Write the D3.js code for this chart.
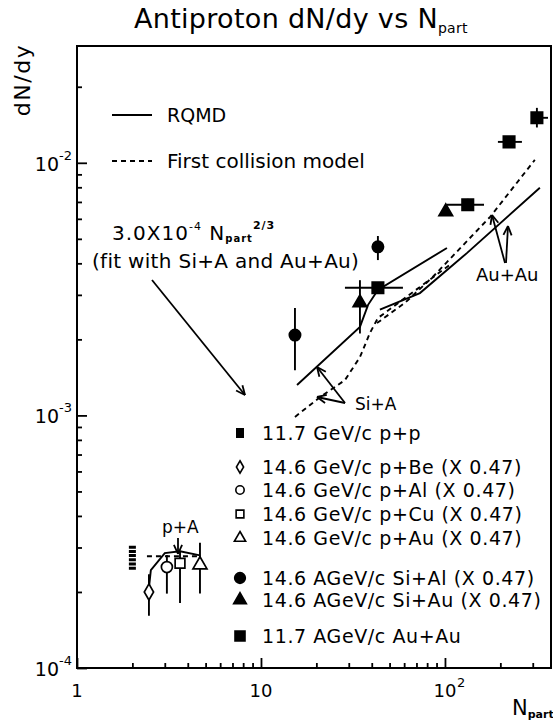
<!DOCTYPE html>
<html><head><meta charset="utf-8">
<script src="https://cdn.jsdelivr.net/npm/d3@7"></script>
<style>
body{margin:0;background:#fff}
svg{display:block}
text{font-family:"DejaVu Sans",sans-serif;fill:#000}
</style>
</head><body>
<svg id="c" width="553" height="723"></svg>
<script>
// ---------------- data ----------------
const xMajorTicks = [1, 10, 100];
const xMinorTicks = [2,3,4,5,6,7,8,9,20,30,40,50,60,70,80,90,200,300];
const yMajorTicks = [1e-4, 1e-3, 1e-2];
const yMinorTicks = [2e-4,3e-4,4e-4,5e-4,6e-4,7e-4,8e-4,9e-4,2e-3,3e-3,4e-3,5e-3,6e-3,7e-3,8e-3,9e-3,2e-2];
const xTickBase = ["1", "10", "10"];
const xTickSup = ["", "", "2"];
const yTickSup = ["-4", "-3", "-2"];

// 11.7 AGeV/c Au+Au
const auauX   = [43.2, 133, 223, 316];
const auauY   = [0.0032, 0.00682, 0.0121, 0.01507];
const auauXlo = [28.6, 102.5, 194, 300];
const auauXhi = [59.1, 163, 262, 363];
const auauYlo = [0.00305, 0.0065, 0.0115, 0.0138];
const auauYhi = [0.00335, 0.0072, 0.0127, 0.0165];
// 14.6 AGeV/c Si+Au
const siauX   = [34.5, 101];
const siauY   = [0.00279, 0.0064];
const siauYlo = [0.00211, 0.0062];
const siauYhi = [0.00343, 0.0066];
// 14.6 AGeV/c Si+Al
const sialX   = [15.3, 43.2];
const sialY   = [0.00208, 0.00465];
const sialYlo = [0.00151, 0.00412];
const sialYhi = [0.00266, 0.00513];
// p+A (x 0.47)
const pbeX = [2.46], pbeY = [0.0002],   pbeYlo = [0.000161], pbeYhi = [0.000235];
const palX = [3.08], palY = [0.000251], palYlo = [0.000197], palYhi = [0.00028];
const pcuX = [3.63], pcuY = [0.00026],  pcuYlo = [0.000181], pcuYhi = [0.00029];
const pauX = [4.66], pauY = [0.000256], pauYlo = [0.000197], pauYhi = [0.000313];
// p+p
const ppX = [2], ppY = [0.000272], ppYlo = [0.000245], ppYhi = [0.000305];

// model curves
const rqmdSiAX  = [15.7, 34.5, 38.2, 43.2, 102.5];
const rqmdSiAY  = [0.00132, 0.00224, 0.00274, 0.00314, 0.0046];
const rqmdAuAuX = [44.3, 73.1, 132, 328];
const rqmdAuAuY = [0.00262, 0.00305, 0.0044, 0.00796];
const rqmdPAX   = [2.46, 2.52, 3.0, 3.63, 4.66];
const rqmdPAY   = [0.000207, 0.000244, 0.000285, 0.00029, 0.000279];
const fcSiAX    = [15.3, 20.9, 28.6, 34.5, 39.1, 43.2, 51.5, 106];
const fcSiAY    = [0.000986, 0.00118, 0.00138, 0.0017, 0.00212, 0.00243, 0.00267, 0.00394];
const fcAuAuX   = [42.7, 60.6, 86.1, 176, 308];
const fcAuAuY   = [0.00232, 0.00279, 0.00354, 0.00611, 0.01027];
const fcPAX     = [2.4, 4.7];
const fcPAY     = [0.000277, 0.000277];

const legendLabels = [
  "11.7 GeV/c p+p",
  "14.6 GeV/c p+Be (X 0.47)",
  "14.6 GeV/c p+Al (X 0.47)",
  "14.6 GeV/c p+Cu (X 0.47)",
  "14.6 GeV/c p+Au (X 0.47)",
  "14.6 AGeV/c Si+Al (X 0.47)",
  "14.6 AGeV/c Si+Au (X 0.47)",
  "11.7 AGeV/c Au+Au"
];

// ---------------- drawing ----------------
const svg = d3.select("#c");
const L = 77, R = 551, T = 46, B = 668;
const x = d3.scaleLog().domain([1, 377]).range([L, R]);
const y = d3.scaleLog().domain([1e-4, 0.029]).range([B, T]);
const SW = 1.9;

// frame
svg.append("rect").attr("x", L).attr("y", T).attr("width", R - L).attr("height", B - T)
  .attr("fill", "none").attr("stroke", "#000").attr("stroke-width", 2);

// axes ticks (inward)
function ax(gen, vals, size, tr) {
  const g = svg.append("g").attr("transform", tr)
    .call(gen.tickValues(vals).tickSize(size).tickFormat(""));
  g.select(".domain").remove();
  g.selectAll("line").attr("stroke", "#000").attr("stroke-width", 1.8);
}
ax(d3.axisBottom(x), xMajorTicks, -10, `translate(0,${B})`);
ax(d3.axisBottom(x), xMinorTicks, -5, `translate(0,${B})`);
ax(d3.axisLeft(y), yMajorTicks, -10, `translate(${L},0)`);
ax(d3.axisLeft(y), yMinorTicks, -5, `translate(${L},0)`);

// tick labels
xMajorTicks.forEach((v, i) => {
  svg.append("text").attr("x", x(v)).attr("y", 697).attr("text-anchor", "middle")
    .attr("font-size", 18).text(xTickBase[i]);
  if (xTickSup[i]) svg.append("text").attr("x", x(v) + 12).attr("y", 687)
    .attr("font-size", 13).text(xTickSup[i]);
});
yMajorTicks.forEach((v, i) => {
  svg.append("text").attr("x", 59).attr("y", y(v) + 8).attr("text-anchor", "end")
    .attr("font-size", 19).text("10");
  svg.append("text").attr("x", 59).attr("y", y(v) - 3)
    .attr("font-size", 13).text(yTickSup[i]);
});

// axis titles
const t = svg.append("text").attr("x", 134).attr("y", 28).attr("font-size", 27).attr("letter-spacing", 0.3);
t.append("tspan").text("Antiproton dN/dy vs N");
t.append("tspan").attr("font-size", 14).attr("dy", 5).text("part");

svg.append("text").attr("transform", "translate(30,80) rotate(-90)")
  .attr("text-anchor", "middle").attr("font-size", 22).attr("letter-spacing", 1.5).text("dN/dy");

const nx = svg.append("text").attr("x", 512).attr("y", 715).attr("font-size", 21);
nx.append("tspan").text("N");
nx.append("tspan").attr("font-size", 11).attr("font-weight", "bold").attr("dy", 3).text("part");

// curves
const line = d3.line().x(d => x(d[0])).y(d => y(d[1]));
function curve(xs, ys, dashed) {
  svg.append("path").attr("d", line(xs.map((v, i) => [v, ys[i]])))
    .attr("fill", "none").attr("stroke", "#000").attr("stroke-width", SW)
    .attr("stroke-dasharray", dashed ? "5,4" : null);
}
curve(rqmdSiAX, rqmdSiAY, false);
curve(rqmdAuAuX, rqmdAuAuY, false);
curve(rqmdPAX, rqmdPAY, false);
curve(fcSiAX, fcSiAY, true);
curve(fcAuAuX, fcAuAuY, true);
curve(fcPAX, fcPAY, true);

// error bars
function vbar(xs, ylo, yhi, w) {
  xs.forEach((v, i) => svg.append("line")
    .attr("x1", x(v)).attr("x2", x(v)).attr("y1", y(ylo[i])).attr("y2", y(yhi[i]))
    .attr("stroke", "#000").attr("stroke-width", w || SW));
}
function hbar(ys, xlo, xhi) {
  ys.forEach((v, i) => svg.append("line")
    .attr("x1", x(xlo[i])).attr("x2", x(xhi[i])).attr("y1", y(v)).attr("y2", y(v))
    .attr("stroke", "#000").attr("stroke-width", SW));
}
vbar(auauX, auauYlo, auauYhi); hbar(auauY, auauXlo, auauXhi);
vbar(siauX, siauYlo, siauYhi);
vbar(sialX, sialYlo, sialYhi);
vbar(pbeX, pbeYlo, pbeYhi); vbar(palX, palYlo, palYhi);
vbar(pcuX, pcuYlo, pcuYhi); vbar(pauX, pauYlo, pauYhi);
// p+p striped marker
ppX.forEach((v, i) => svg.append("line")
  .attr("x1", x(v)).attr("x2", x(v)).attr("y1", y(ppYlo[i])).attr("y2", y(ppYhi[i]))
  .attr("stroke", "#000").attr("stroke-width", 7).attr("stroke-dasharray", "3,1.2"));

// markers
function marks(xs, ys, type, size, filled, rot) {
  xs.forEach((v, i) => svg.append("path")
    .attr("d", d3.symbol().type(type).size(size)())
    .attr("transform", `translate(${x(v)},${y(ys[i])})` + (rot ? ` rotate(${rot})` : ""))
    .attr("fill", filled ? "#000" : "#fff").attr("stroke", "#000").attr("stroke-width", 1.7));
}
marks(auauX, auauY, d3.symbolSquare, 130, true);
marks(siauX, siauY, d3.symbolTriangle, 80, true);
marks(sialX, sialY, d3.symbolCircle, 100, true);
marks(pbeX, pbeY, d3.symbolDiamond, 75, false);
marks(palX, palY, d3.symbolCircle, 95, false);
marks(pcuX, pcuY, d3.symbolSquare, 95, false);
marks(pauX, pauY, d3.symbolTriangle, 85, false);

// ---------------- annotations ----------------
function arrow(x1, y1, x2, y2) {
  const g = svg.append("g").attr("stroke", "#000").attr("stroke-width", 1.8).attr("fill", "none");
  g.append("line").attr("x1", x1).attr("y1", y1).attr("x2", x2).attr("y2", y2);
  const a = Math.atan2(y1 - y2, x1 - x2), len = 10, sp = 0.42;
  [a - sp, a + sp].forEach(b => g.append("line").attr("x1", x2).attr("y1", y2)
    .attr("x2", x2 + len * Math.cos(b)).attr("y2", y2 + len * Math.sin(b)));
}

// top legend
svg.append("line").attr("x1", 112).attr("x2", 152).attr("y1", 115).attr("y2", 115)
  .attr("stroke", "#000").attr("stroke-width", SW);
svg.append("text").attr("x", 167).attr("y", 122).attr("font-size", 19).text("RQMD");
svg.append("line").attr("x1", 112).attr("x2", 152).attr("y1", 161).attr("y2", 161)
  .attr("stroke", "#000").attr("stroke-width", SW).attr("stroke-dasharray", "5,4");
svg.append("text").attr("x", 167).attr("y", 168).attr("font-size", 20).text("First collision model");

// fit annotation
const f = svg.append("text").attr("x", 112).attr("y", 240).attr("font-size", 20).attr("letter-spacing", 1);
f.append("tspan").text("3.0X10");
f.append("tspan").attr("font-size", 11).attr("dy", -10).text("-4");
f.append("tspan").attr("dy", 10).text(" N");
f.append("tspan").attr("font-size", 10).attr("font-weight", "bold").attr("dy", 2).text("part");
f.append("tspan").attr("font-size", 11).attr("font-weight", "bold").attr("dy", -13).text("2/3");
svg.append("text").attr("x", 92).attr("y", 268).attr("font-size", 20).attr("letter-spacing", 0.3).text("(fit with Si+A and Au+Au)");
arrow(152, 280, 245, 395);

// Si+A
svg.append("text").attr("x", 355).attr("y", 410).attr("font-size", 17).text("Si+A");
arrow(345, 403, 317, 367);
arrow(345, 403, 317, 397);

// Au+Au
svg.append("text").attr("x", 476).attr("y", 281).attr("font-size", 18).text("Au+Au");
arrow(505, 263, 492, 215);
arrow(506, 263, 508, 226);

// p+A
svg.append("text").attr("x", 162).attr("y", 533).attr("font-size", 17).text("p+A");
arrow(178, 538, 178, 554);

// bottom legend
const legY = [433, 467, 490, 514, 538, 578, 600, 636];
const legX = 240;
legendLabels.forEach((s, i) => svg.append("text").attr("x", 262).attr("y", legY[i] + 7)
  .attr("font-size", 19).attr("letter-spacing", 0.6).text(s));
svg.append("rect").attr("x", legX - 4).attr("y", legY[0] - 5).attr("width", 8).attr("height", 10).attr("fill", "#000");
const legSym = [null, [d3.symbolDiamond, 45, false], [d3.symbolCircle, 55, false], [d3.symbolSquare, 60, false],
  [d3.symbolTriangle, 55, false], [d3.symbolCircle, 90, true], [d3.symbolTriangle, 70, true], [d3.symbolSquare, 100, true]];
legSym.forEach((s, i) => {
  if (!s) return;
  svg.append("path").attr("d", d3.symbol().type(s[0]).size(s[1])())
    .attr("transform", `translate(${legX},${legY[i]})`)
    .attr("fill", s[2] ? "#000" : "#fff").attr("stroke", "#000").attr("stroke-width", 1.6);
});
</script>
</body></html>
